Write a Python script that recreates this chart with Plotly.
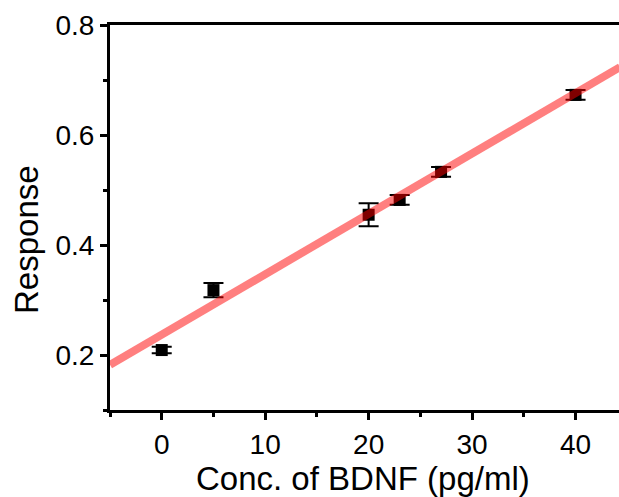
import plotly.graph_objects as go

conc = [0, 5, 20, 23, 27, 40]
response = [0.209, 0.318, 0.455, 0.482, 0.533, 0.673]
err = [0.006, 0.013, 0.021, 0.009, 0.009, 0.009]
fit_x = [-5, 44.3]
fit_slope = 0.01098
fit_intercept = 0.237
fit_y = [fit_intercept + fit_slope * v for v in fit_x]

x_ticks = [0, 10, 20, 30, 40]
y_ticks = [0.2, 0.4, 0.6, 0.8]

W, H = 619, 497
L, T, B, R = 110, 25, 87, 0
pw = W - L - R
ph = H - T - B

fig = go.Figure()
fig.add_trace(go.Scatter(
    x=conc, y=response, mode="markers",
    marker=dict(symbol="square", size=12, color="black"),
    error_y=dict(type="data", array=err, color="black", thickness=2, width=10),
    showlegend=False,
))
fig.add_trace(go.Scatter(
    x=fit_x, y=fit_y, mode="lines",
    line=dict(color="rgba(255,0,0,0.5)", width=8),
    showlegend=False,
))

font = "Liberation Sans, Arial, sans-serif"
fig.update_layout(
    width=W, height=H,
    margin=dict(l=L, r=R, t=T, b=B, pad=0),
    paper_bgcolor="white", plot_bgcolor="white",
    font=dict(family=font, color="black", size=28),
    xaxis=dict(
        range=[-5, 44.2], tickvals=x_ticks, ticktext=[str(v) for v in x_ticks],
        showline=True, linecolor="black", linewidth=3, mirror=True,
        ticks="outside", ticklen=7, tickwidth=3, tickcolor="black",
        minor=dict(dtick=10, tick0=-5, ticks="outside", ticklen=4, tickwidth=3, tickcolor="black", showgrid=False),
        showgrid=False, zeroline=False, tickfont=dict(size=28),
    ),
    yaxis=dict(
        range=[0.1, 0.8], tickvals=y_ticks, ticktext=[f"{v:.1f}" for v in y_ticks],
        showline=True, linecolor="black", linewidth=3,
        ticks="outside", ticklen=7, tickwidth=3, tickcolor="black",
        minor=dict(dtick=0.2, tick0=0.1, ticks="outside", ticklen=4, tickwidth=3, tickcolor="black", showgrid=False),
        showgrid=False, zeroline=False, tickfont=dict(size=28),
    ),
    annotations=[
        dict(text="Conc. of BDNF (pg/ml)", xref="paper", yref="paper",
             x=(363 - L) / pw, y=(H - B - 478) / ph, xanchor="center", yanchor="middle",
             showarrow=False, font=dict(size=33)),
        dict(text="Response", xref="paper", yref="paper", textangle=-90,
             x=(26 - L) / pw, y=(H - B - 240) / ph, xanchor="center", yanchor="middle",
             showarrow=False, font=dict(size=33)),
    ],
)

fig.write_html(
    "out.html",
    config={"displayModeBar": False},
    post_script="document.body.style.margin='0';document.body.style.overflow='hidden';",
)
